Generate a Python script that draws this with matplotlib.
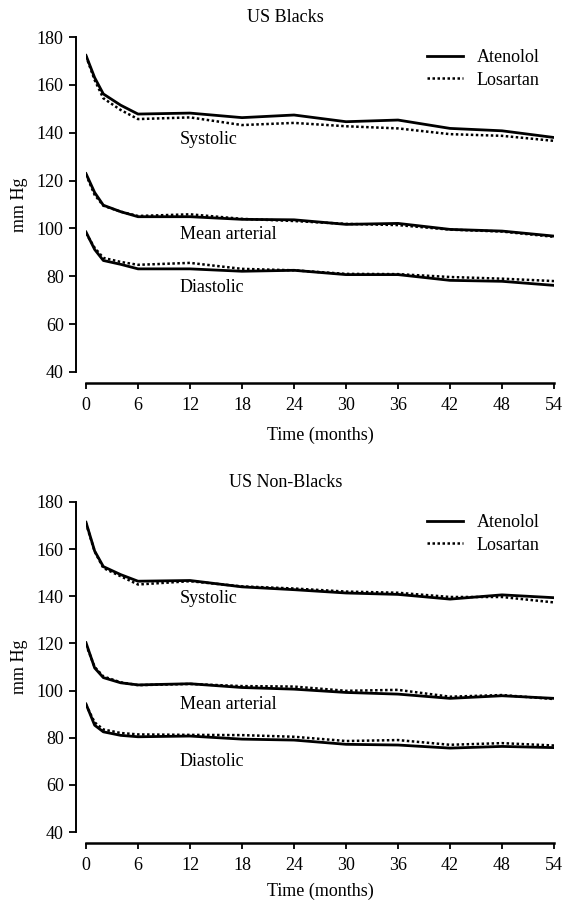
import matplotlib
matplotlib.use("Agg")
import matplotlib.pyplot as plt

months = [0, 1, 2, 4, 6, 12, 18, 24, 30, 36, 42, 48, 54]
x_ticks = [0, 6, 12, 18, 24, 30, 36, 42, 48, 54]
y_ticks = [40, 60, 80, 100, 120, 140, 160, 180]

# US Blacks
blk_sys_aten = [172.3, 163.0, 156.2, 151.5, 147.8, 148.2, 146.3, 147.4, 144.6, 145.3, 141.8, 140.8, 138.0]
blk_sys_losa = [172.0, 162.0, 154.4, 149.5, 145.7, 146.4, 143.2, 144.1, 142.7, 141.8, 139.4, 138.7, 136.6]
blk_map_aten = [122.9, 115.0, 109.7, 107.0, 104.9, 104.9, 103.8, 103.6, 101.7, 102.1, 99.6, 98.9, 96.8]
blk_map_losa = [122.5, 114.0, 109.5, 107.0, 105.2, 105.9, 104.0, 103.1, 101.9, 101.4, 99.5, 98.7, 96.5]
blk_dia_aten = [98.5, 91.2, 86.6, 85.0, 83.1, 83.1, 82.1, 82.5, 80.7, 80.7, 78.3, 77.9, 76.2]
blk_dia_losa = [98.0, 91.9, 87.7, 86.0, 84.8, 85.6, 83.1, 82.5, 81.0, 80.9, 79.7, 79.0, 78.0]

# US Non-Blacks
nbk_sys_aten = [171.4, 159.2, 152.6, 149.2, 146.4, 146.7, 144.0, 142.8, 141.4, 140.8, 138.8, 140.6, 139.4]
nbk_sys_losa = [171.0, 159.0, 152.0, 148.5, 145.0, 146.4, 144.2, 143.3, 142.0, 141.5, 139.7, 139.7, 137.4]
nbk_map_aten = [120.3, 109.6, 105.5, 103.3, 102.4, 102.9, 101.3, 100.6, 99.2, 98.5, 96.7, 97.8, 96.7]
nbk_map_losa = [119.5, 110.0, 106.0, 103.5, 102.3, 102.8, 101.9, 101.7, 99.9, 100.3, 97.4, 98.1, 96.4]
nbk_dia_aten = [94.3, 85.3, 82.5, 81.0, 80.4, 80.7, 79.4, 79.0, 77.2, 76.9, 75.6, 76.3, 75.8]
nbk_dia_losa = [94.0, 86.5, 83.5, 82.0, 81.4, 81.2, 81.1, 80.4, 78.6, 79.0, 77.0, 77.7, 76.7]

panels = [
    ("US Blacks", blk_sys_aten, blk_sys_losa, blk_map_aten, blk_map_losa, blk_dia_aten, blk_dia_losa,
     [137.3, 97.5, 75.5]),
    ("US Non-Blacks", nbk_sys_aten, nbk_sys_losa, nbk_map_aten, nbk_map_losa, nbk_dia_aten, nbk_dia_losa,
     [139.0, 94.3, 70.0]),
]
curve_labels = ["Systolic", "Mean arterial", "Diastolic"]

plt.rcParams['font.family'] = ['Liberation Serif', 'DejaVu Serif']
fig = plt.figure(figsize=(5.62, 9.05), dpi=100)

W, H = 562.0, 905.0
boxes = [
    (86 / W, 1 - 372 / H, (554 - 86) / W, (372 - 37) / H),
    (86 / W, 1 - 832 / H, (554 - 86) / W, (832 - 502) / H),
]
labelpads = [9, 6]
FS = 13

for box, lp, (title, sa, sl, ma, ml, da, dl, lab_y) in zip(boxes, labelpads, panels):
    ax = fig.add_axes(box)
    ax.plot(months, sa, color='black', lw=2.0, solid_joinstyle='round', label='Atenolol')
    ax.plot(months, sl, color='black', lw=1.8, linestyle=(0, (1, 1)), label='Losartan')
    ax.plot(months, ma, color='black', lw=2.0, solid_joinstyle='round')
    ax.plot(months, ml, color='black', lw=1.8, linestyle=(0, (1, 1)))
    ax.plot(months, da, color='black', lw=2.0, solid_joinstyle='round')
    ax.plot(months, dl, color='black', lw=1.8, linestyle=(0, (1, 1)))
    for txt, yv in zip(curve_labels, lab_y):
        ax.text(10.8, yv, txt, ha='left', va='center', fontsize=FS)
    ax.set_xlim(0, 54)
    ax.set_ylim(40, 180)
    ax.set_xticks(x_ticks)
    ax.set_yticks(y_ticks)
    ax.tick_params(axis='both', labelsize=FS, width=1.3, direction='out', colors='black')
    ax.tick_params(axis='y', length=5, pad=4)
    ax.tick_params(axis='x', length=4, pad=6)
    ax.spines['top'].set_visible(False)
    ax.spines['right'].set_visible(False)
    ax.spines['left'].set_position(('outward', 7))
    ax.spines['bottom'].set_position(('outward', 8))
    ax.spines['left'].set_linewidth(1.4)
    ax.spines['bottom'].set_linewidth(1.8)
    ax.set_xlabel("Time (months)", fontsize=FS, labelpad=lp)
    ax.set_ylabel("mm Hg", fontsize=FS, labelpad=6)
    ax.set_title(title, fontsize=FS, pad=11, x=0.427)
    ax.legend(loc='upper right', bbox_to_anchor=(0.985, 0.985), frameon=False, fontsize=FS,
              handlelength=2.0, handletextpad=0.75, labelspacing=0.3, borderaxespad=0)

fig.savefig("out.png", dpi=100)
